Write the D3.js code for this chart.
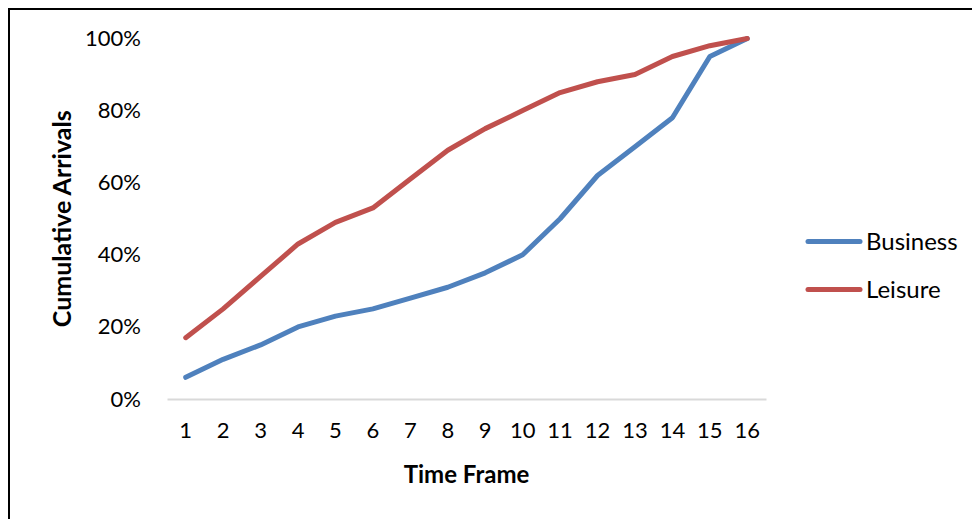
<!DOCTYPE html>
<html>
<head>
<meta charset="utf-8">
<script src="https://cdn.jsdelivr.net/npm/d3@7"></script>
<style>
  body { margin: 0; background: #fff; }
  text { font-family: Lato, "Open Sans", sans-serif; fill: #000; }
</style>
</head>
<body>
<div id="chart"></div>
<script>
// data
const timeFrames = [1, 2, 3, 4, 5, 6, 7, 8, 9, 10, 11, 12, 13, 14, 15, 16];
const business = [6, 11, 15, 20, 23, 25, 28, 31, 35, 40, 50, 62, 70, 78, 95, 100];
const leisure = [17, 25, 34, 43, 49, 53, 61, 69, 75, 80, 85, 88, 90, 95, 98, 100];
const yTicks = [0, 20, 40, 60, 80, 100];
const seriesNames = ["Business", "Leisure"];
const colors = ["#4F81BD", "#C0504D"];

const W = 972, H = 519;
const margin = { top: 38.5, right: 206, bottom: 120, left: 167 },
  width = W - margin.left - margin.right,
  height = H - margin.top - margin.bottom;

const svg = d3
  .select("#chart")
  .append("svg")
  .attr("width", W)
  .attr("height", H);

// outer frame
svg
  .append("rect")
  .attr("x", 9)
  .attr("y", 9)
  .attr("width", 1200)
  .attr("height", 800)
  .attr("fill", "none")
  .attr("stroke", "#000")
  .attr("stroke-width", 2);

const g = svg
  .append("g")
  .attr("transform", `translate(${margin.left},${margin.top})`);

const x = d3.scaleBand().domain(timeFrames).range([0, width]);
const y = d3.scaleLinear().domain([0, 100]).range([height, 0]);

// x axis
const xAxis = g
  .append("g")
  .attr("transform", `translate(0, ${height})`)
  .call(d3.axisBottom(x).tickSize(0).tickPadding(23));
xAxis.select(".domain").attr("stroke", "#D9D9D9").attr("stroke-width", 2);
xAxis.selectAll("text").style("font-size", "22px");

// y axis
const yAxis = g
  .append("g")
  .call(
    d3.axisLeft(y).tickValues(yTicks).tickSize(0).tickPadding(26)
      .tickFormat((d) => d + "%")
  );
yAxis.select(".domain").remove();
yAxis.selectAll("text").style("font-size", "22px");

// axis titles
g.append("text")
  .attr("x", width / 2)
  .attr("y", height + 84)
  .attr("text-anchor", "middle")
  .style("font-size", "24px")
  .style("font-weight", "bold")
  .text("Time Frame");

g.append("text")
  .attr("transform", `translate(${62 - margin.left},${height / 2}) rotate(-90)`)
  .attr("text-anchor", "middle")
  .attr("dy", "0.35em")
  .style("font-size", "25px")
  .style("font-weight", "bold")
  .text("Cumulative Arrivals");

// lines
const line = d3
  .line()
  .x((d, i) => x(timeFrames[i]) + x.bandwidth() / 2)
  .y((d) => y(d));

[business, leisure].forEach((s, i) => {
  g.append("path")
    .datum(s)
    .attr("fill", "none")
    .attr("stroke", colors[i])
    .attr("stroke-width", 5)
    .attr("stroke-linejoin", "round")
    .attr("stroke-linecap", "round")
    .attr("d", line);
});

// legend
const legend = svg
  .selectAll(".legend")
  .data(seriesNames)
  .join("g")
  .attr("class", "legend")
  .attr("transform", (d, i) => `translate(806, ${241.5 + i * 48})`);

legend
  .append("line")
  .attr("x1", 2)
  .attr("x2", 54)
  .attr("stroke", (d, i) => colors[i])
  .attr("stroke-width", 5)
  .attr("stroke-linecap", "round");

legend
  .append("text")
  .attr("x", 60)
  .attr("dy", "0.35em")
  .style("font-size", "24px")
  .text((d) => d);
</script>
</body>
</html>
